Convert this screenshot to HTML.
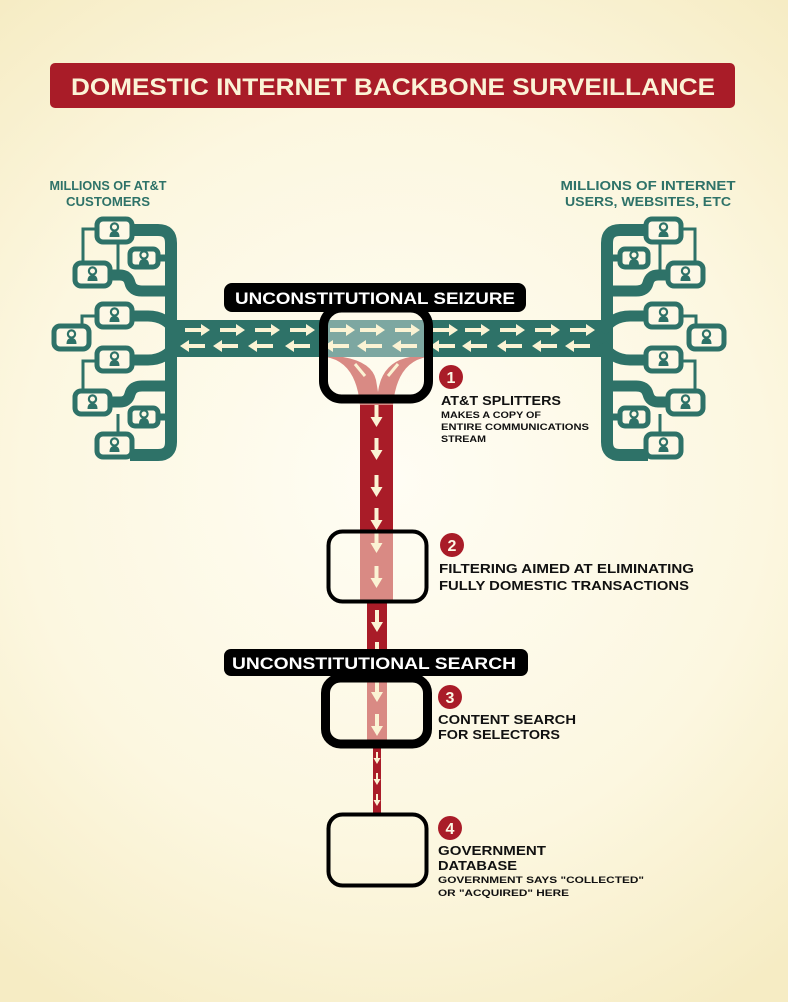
<!DOCTYPE html>
<html><head><meta charset="utf-8"><style>
html,body{margin:0;padding:0;width:788px;height:1002px;overflow:hidden}
svg{display:block}
text{font-family:"Liberation Sans",sans-serif;font-weight:bold}
</style></head><body>
<svg width="788" height="1002" viewBox="0 0 788 1002" xmlns="http://www.w3.org/2000/svg">
<defs>
<radialGradient id="bg" cx="394" cy="480" r="620" gradientUnits="userSpaceOnUse">
<stop offset="0" stop-color="#fffdf4"/><stop offset="0.6" stop-color="#fcf7e0"/><stop offset="1" stop-color="#f6ecc4"/>
</radialGradient>
<g id="ic">
<circle cx="0" cy="-3" r="3.6" fill="none" stroke="#2e7268" stroke-width="2.2"/>
<path d="M-5,7 Q-5,1 0,1 Q5,1 5,7 Z" fill="#2e7268"/>
</g>
<g id="tree" fill="none" stroke="#2e7268" stroke-linecap="butt">
<!-- trunk -->
<path d="M130,230 H158 Q171,230 171,243 V442 Q171,455 158,455 H130" stroke-width="12"/>
<path d="M158,258 H171" stroke-width="7"/>
<path d="M158,417 H171" stroke-width="7"/>
<path d="M110,275 H120 Q128,275 130,283 Q132,291 142,291 H171" stroke-width="11"/>
<path d="M110,402 H120 Q128,402 130,394 Q132,386 142,386 H171" stroke-width="11"/>
<path d="M130,316 H148 Q166,316 176,332" stroke-width="11"/>
<path d="M130,360 H148 Q166,360 176,344" stroke-width="11"/>
<!-- thin -->
<path d="M95,229 H83 V263" stroke-width="3"/>
<path d="M118,243 V270" stroke-width="3"/>
<path d="M95,316 H82 V326" stroke-width="3"/>
<path d="M95,361 H83 V391" stroke-width="3"/>
<path d="M118,414 V434" stroke-width="3"/>
<!-- boxes -->
<g fill="#fdf8e6" stroke-width="5">
<rect x="97" y="219" width="35" height="23" rx="6"/>
<rect x="130" y="249" width="28" height="18" rx="5"/>
<rect x="75" y="263" width="35" height="23" rx="6"/>
<rect x="97" y="304" width="35" height="23" rx="6"/>
<rect x="54" y="326" width="35" height="23" rx="6"/>
<rect x="97" y="348" width="35" height="23" rx="6"/>
<rect x="75" y="391" width="35" height="23" rx="6"/>
<rect x="130" y="408" width="28" height="18" rx="5"/>
<rect x="97" y="434" width="35" height="23" rx="6"/>
</g>
</g>
<g id="icons">
<use href="#ic" x="114.5" y="230"/>
<use href="#ic" x="144" y="258" transform="translate(0,0)"/>
<use href="#ic" x="92.5" y="274"/>
<use href="#ic" x="114.5" y="315"/>
<use href="#ic" x="71.5" y="337"/>
<use href="#ic" x="114.5" y="359"/>
<use href="#ic" x="92.5" y="402"/>
<use href="#ic" x="144" y="417"/>
<use href="#ic" x="114.5" y="445"/>
</g>
<g id="ra"><path d="M0,-2 H16 V-6 L25,0 L16,6 V2 H0 Z" fill="#fbf3d4"/></g>
<g id="la"><path d="M25,-2 H9 V-6 L0,0 L9,6 V2 H25 Z" fill="#fbf3d4"/></g>
<g id="da"><path d="M-2,0 V12 H-6 L0,22 L6,12 H2 V0 Z" fill="#fbf3d4"/></g>
<g id="sda"><path d="M-1,0 V6 H-3.5 L0,12 L3.5,6 H1 V0 Z" fill="#fbf3d4"/></g>
</defs>
<rect width="788" height="1002" fill="url(#bg)"/>

<!-- title -->
<rect x="50" y="63" width="685" height="45" rx="5" fill="#a91c28"/>
<text x="393" y="95" font-size="24" fill="#fbf3d6" text-anchor="middle" textLength="644" lengthAdjust="spacingAndGlyphs">DOMESTIC INTERNET BACKBONE SURVEILLANCE</text>

<!-- headers -->
<g fill="#2e7268" font-size="13" text-anchor="middle">
<text x="108" y="190" textLength="117" lengthAdjust="spacingAndGlyphs">MILLIONS OF AT&amp;T</text>
<text x="108" y="206" textLength="84" lengthAdjust="spacingAndGlyphs">CUSTOMERS</text>
<text x="648" y="190" textLength="175" lengthAdjust="spacingAndGlyphs">MILLIONS OF INTERNET</text>
<text x="648" y="206" textLength="166" lengthAdjust="spacingAndGlyphs">USERS, WEBSITES, ETC</text>
</g>

<!-- band -->
<rect x="168" y="320" width="442" height="37" fill="#2e7268"/>
<use href="#tree"/><use href="#icons"/>
<g transform="translate(778,0) scale(-1,1)"><use href="#tree"/><use href="#icons"/></g>

<!-- stream (under box) -->
<rect x="360" y="398" width="33" height="133" fill="#a91c28"/>
<rect x="360" y="531" width="33" height="71" fill="#d98a84"/>
<rect x="367" y="602" width="20" height="74" fill="#a91c28"/>
<rect x="367" y="676" width="20" height="70" fill="#d98a84"/>
<rect x="373" y="746" width="8" height="68" fill="#a91c28"/>

<!-- seizure box inner -->
<rect x="324" y="320" width="104" height="37" fill="#fff" opacity="0.38"/>
<path d="M326,357 Q356,362 360,405 H393 Q397,362 427,357 H410 Q382,362 378,392 Q376,380 376,380 Q372,362 343,357 Z" fill="#d98a84"/>
<path d="M355,364 l10,12" stroke="#fbf3d4" stroke-width="3"/>
<path d="M398,364 l-10,12" stroke="#fbf3d4" stroke-width="3"/>

<!-- arrows in band -->
<g>
<use href="#ra" x="185" y="330"/><use href="#ra" x="220" y="330"/><use href="#ra" x="255" y="330"/><use href="#ra" x="290" y="330"/>
<use href="#ra" x="330" y="330"/><use href="#ra" x="360" y="330"/><use href="#ra" x="395" y="330"/><use href="#ra" x="433" y="330"/>
<use href="#ra" x="465" y="330"/><use href="#ra" x="500" y="330"/><use href="#ra" x="535" y="330"/><use href="#ra" x="570" y="330"/>
<use href="#la" x="180" y="346"/><use href="#la" x="213" y="346"/><use href="#la" x="248" y="346"/><use href="#la" x="285" y="346"/>
<use href="#la" x="324" y="346"/><use href="#la" x="357" y="346"/><use href="#la" x="392" y="346"/><use href="#la" x="430" y="346"/>
<use href="#la" x="462" y="346"/><use href="#la" x="497" y="346"/><use href="#la" x="532" y="346"/><use href="#la" x="565" y="346"/>
</g>

<!-- down arrows -->
<use href="#da" x="376.5" y="405"/><use href="#da" x="376.5" y="438"/><use href="#da" x="376.5" y="475"/><use href="#da" x="376.5" y="508"/>
<use href="#da" x="376.5" y="531"/><use href="#da" x="376.5" y="566"/><use href="#da" x="377" y="610"/><use href="#da" x="377" y="642"/>
<use href="#da" x="377" y="680"/><use href="#da" x="377" y="714"/>
<use href="#sda" x="377" y="752"/><use href="#sda" x="377" y="773"/><use href="#sda" x="377" y="794"/>

<!-- boxes -->
<rect x="323.5" y="308" width="105" height="91" rx="18" fill="none" stroke="#000" stroke-width="9"/>
<rect x="328.5" y="531.5" width="98" height="70" rx="14" fill="none" stroke="#000" stroke-width="4"/>
<rect x="325.5" y="678" width="102" height="66" rx="15" fill="none" stroke="#000" stroke-width="9"/>
<rect x="328.5" y="814.5" width="98" height="71" rx="14" fill="none" stroke="#000" stroke-width="4"/>

<!-- labels -->
<rect x="224" y="283" width="302" height="29" rx="8" fill="#000"/>
<text x="375" y="304" font-size="17" fill="#fff" text-anchor="middle" textLength="280" lengthAdjust="spacingAndGlyphs">UNCONSTITUTIONAL SEIZURE</text>
<rect x="224" y="649" width="304" height="27" rx="7" fill="#000"/>
<text x="374" y="669" font-size="17" fill="#fff" text-anchor="middle" textLength="284" lengthAdjust="spacingAndGlyphs">UNCONSTITUTIONAL SEARCH</text>

<!-- numbers -->
<g fill="#a91c28"><circle cx="451" cy="377" r="12"/><circle cx="452" cy="545" r="12"/><circle cx="450" cy="697" r="12"/><circle cx="450" cy="828" r="12"/></g>
<g fill="#fdf8e6" font-size="16" text-anchor="middle">
<text x="451" y="383">1</text><text x="452" y="551">2</text><text x="450" y="703">3</text><text x="450" y="834">4</text>
</g>

<!-- text -->
<g fill="#111">
<text x="441" y="405" font-size="13" textLength="120" lengthAdjust="spacingAndGlyphs">AT&amp;T SPLITTERS</text>
<text x="441" y="418" font-size="9.5" textLength="100" lengthAdjust="spacingAndGlyphs">MAKES A COPY OF</text>
<text x="441" y="430" font-size="9.5" textLength="148" lengthAdjust="spacingAndGlyphs">ENTIRE COMMUNICATIONS</text>
<text x="441" y="442" font-size="9.5" textLength="45" lengthAdjust="spacingAndGlyphs">STREAM</text>
<text x="439" y="573" font-size="13" textLength="255" lengthAdjust="spacingAndGlyphs">FILTERING AIMED AT ELIMINATING</text>
<text x="439" y="590" font-size="13" textLength="250" lengthAdjust="spacingAndGlyphs">FULLY DOMESTIC TRANSACTIONS</text>
<text x="438" y="724" font-size="13" textLength="138" lengthAdjust="spacingAndGlyphs">CONTENT SEARCH</text>
<text x="438" y="739" font-size="13" textLength="122" lengthAdjust="spacingAndGlyphs">FOR SELECTORS</text>
<text x="438" y="855" font-size="13" textLength="108" lengthAdjust="spacingAndGlyphs">GOVERNMENT</text>
<text x="438" y="870" font-size="13" textLength="79" lengthAdjust="spacingAndGlyphs">DATABASE</text>
<text x="438" y="883" font-size="9.5" textLength="206" lengthAdjust="spacingAndGlyphs">GOVERNMENT SAYS "COLLECTED"</text>
<text x="438" y="896" font-size="9.5" textLength="131" lengthAdjust="spacingAndGlyphs">OR "ACQUIRED" HERE</text>
</g>
</svg>
</body></html>
